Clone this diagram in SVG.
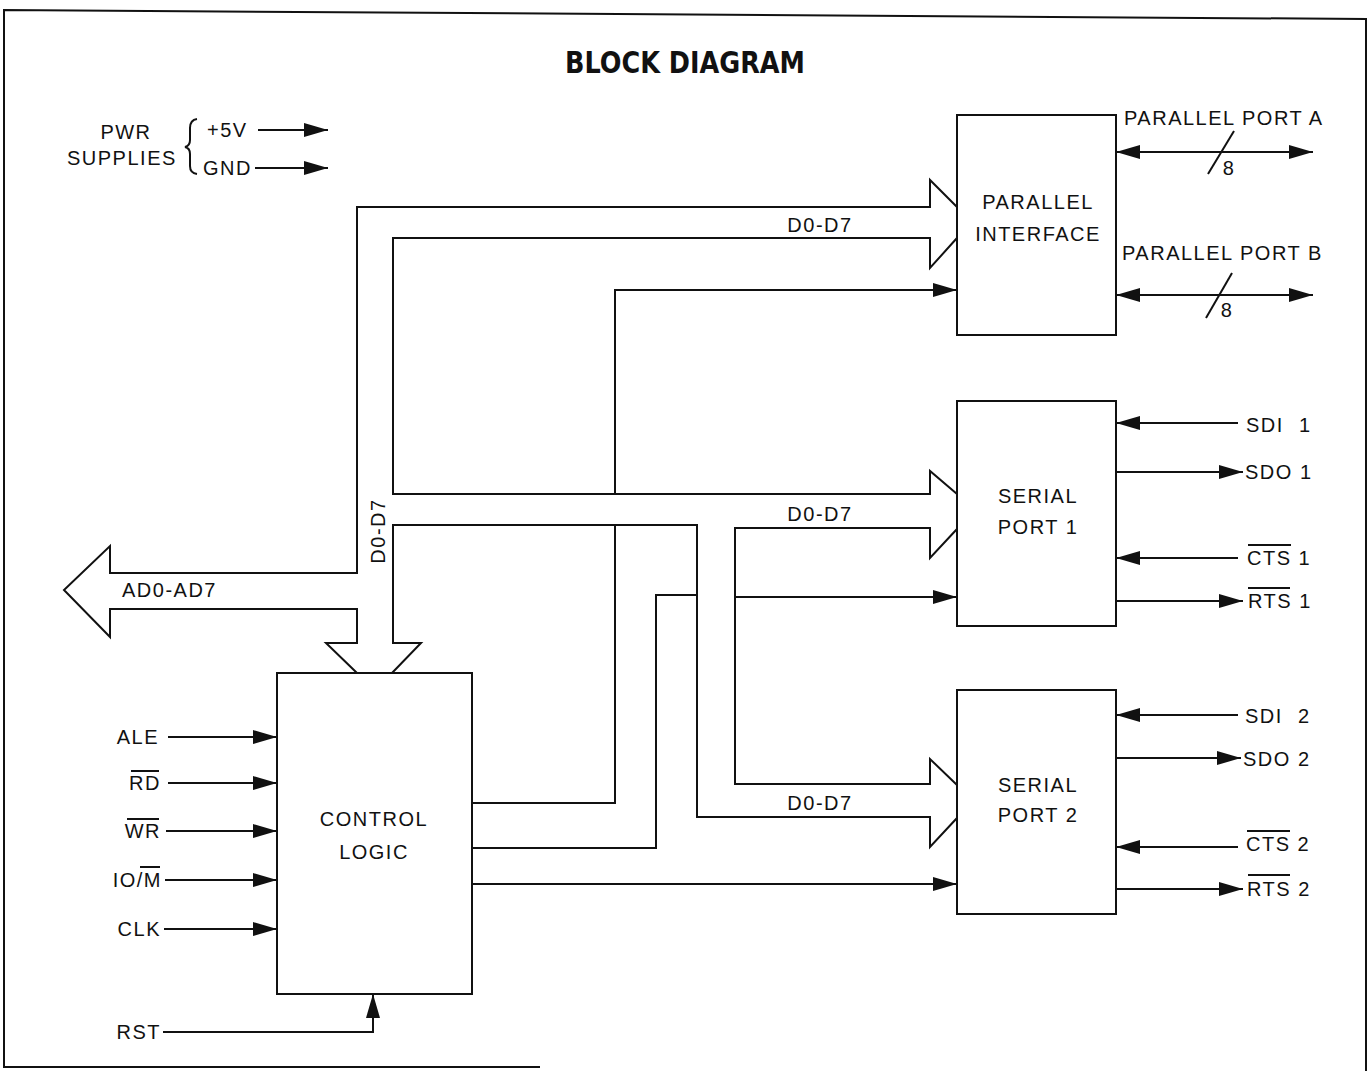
<svg xmlns="http://www.w3.org/2000/svg" width="1369" height="1071" viewBox="0 0 1369 1071">
<style>
text{font-family:"Liberation Sans",Arial,sans-serif;font-size:20px;letter-spacing:1.5px;fill:#111}
.ln{fill:none;stroke:#111;stroke-width:2}
.arr{fill:none;stroke:#111;stroke-width:2;marker-end:url(#ah)}
.box{fill:#fff;stroke:#111;stroke-width:2}
.mid{text-anchor:middle}
.end{text-anchor:end}
.title{font-family:"DejaVu Sans Condensed","DejaVu Sans",sans-serif;font-weight:bold;font-size:31px;letter-spacing:0}
</style>
<defs>
<marker id="ah" markerUnits="userSpaceOnUse" markerWidth="24" markerHeight="14" refX="24" refY="7" orient="auto">
<path d="M0,0 L24,7 L0,14 z" fill="#111"/>
</marker>
<marker id="as" markerUnits="userSpaceOnUse" markerWidth="24" markerHeight="14" refX="0" refY="7" orient="auto">
<path d="M24,0 L0,7 L24,14 z" fill="#111"/>
</marker>
</defs>
<rect width="1369" height="1071" fill="#fff"/>
<path class="ln" d="M540 1067 L4 1067 L4 10 L1366 19 L1366 1071"/>
<text class="title" x="565" y="73" textLength="240" lengthAdjust="spacingAndGlyphs">BLOCK DIAGRAM</text>

<g id="pwr">
<text class="mid" x="126" y="139">PWR</text>
<text x="67" y="165">SUPPLIES</text>
<path class="ln" stroke-width="1.5" d="M197 119 Q190 120 190 128 L190 140 Q190 146 185 147 Q190 148 190 154 L190 166 Q190 173 197 174"/>
<text x="207" y="137">+5V</text>
<text x="203" y="175">GND</text>
</g>

<g id="connectors">
<path class="arr" d="M258 130 L328 130"/>
<path class="arr" d="M255 168 L328 168"/>
<!-- buses -->
<path class="ln" d="M957 207 L930 180 L930 207 L357 207 L357 573 L110 573 L110 546 L64 590 L110 637 L110 609 L357 609 L357 643 L326 643 L357 673"/>
<path class="ln" d="M392 673 L421 643 L393 643 L393 525 L697 525 L697 817 L930 817 L930 847 L957 818"/>
<path class="ln" d="M957 238 L930 268 L930 238 L393 238 L393 494 L930 494 L930 471 L957 494"/>
<path class="ln" d="M957 529 L930 558 L930 528 L735 528 L735 784 L930 784 L930 759 L957 785"/>
<!-- control signals -->
<path class="ln" d="M472 803 L615 803 L615 526"/>
<path class="arr" d="M615 494 L615 290 L957 290"/>
<path class="ln" d="M472 848 L656 848 L656 595 L697 595"/>
<path class="arr" d="M735 597 L957 597"/>
<path class="arr" d="M472 884 L957 884"/>
<!-- control logic inputs -->
<path class="arr" d="M168 737 L277 737"/>
<path class="arr" d="M168 783 L277 783"/>
<path class="arr" d="M166 831 L277 831"/>
<path class="arr" d="M165 880 L277 880"/>
<path class="arr" d="M164 929 L277 929"/>
<path class="arr" d="M163 1032 L373 1032 L373 994"/>
<!-- parallel ports -->
<path class="ln" d="M1116 152 L1313 152" marker-start="url(#as)" marker-end="url(#ah)"/>
<path class="ln" d="M1208 174 L1234 131"/>
<path class="ln" d="M1116 295 L1313 295" marker-start="url(#as)" marker-end="url(#ah)"/>
<path class="ln" d="M1206 318 L1232 273"/>
<!-- serial 1 -->
<path class="arr" d="M1238 423 L1116 423"/>
<path class="arr" d="M1116 472 L1243 472"/>
<path class="arr" d="M1238 558 L1116 558"/>
<path class="arr" d="M1116 601 L1243 601"/>
<!-- serial 2 -->
<path class="arr" d="M1238 715 L1116 715"/>
<path class="arr" d="M1116 758 L1241 758"/>
<path class="arr" d="M1238 847 L1116 847"/>
<path class="arr" d="M1116 889 L1243 889"/>
</g>

<g id="parallel-interface">
<rect class="box" x="957" y="115" width="159" height="220"/>
<text class="mid" x="1038" y="209">PARALLEL</text>
<text class="mid" x="1038" y="241">INTERFACE</text>
</g>
<g id="serial-port-1">
<rect class="box" x="957" y="401" width="159" height="225"/>
<text class="mid" x="1038" y="503">SERIAL</text>
<text class="mid" x="1038" y="534">PORT 1</text>
</g>
<g id="serial-port-2">
<rect class="box" x="957" y="690" width="159" height="224"/>
<text class="mid" x="1038" y="792">SERIAL</text>
<text class="mid" x="1038" y="822">PORT 2</text>
</g>
<g id="control-logic">
<rect class="box" x="277" y="673" width="195" height="321"/>
<text class="mid" x="374" y="826">CONTROL</text>
<text class="mid" x="374" y="859">LOGIC</text>
</g>

<g id="labels">
<text x="820" y="232" class="mid">D0-D7</text>
<text x="820" y="521" class="mid">D0-D7</text>
<text x="820" y="810" class="mid">D0-D7</text>
<text class="mid" transform="translate(385,531) rotate(-90)">D0-D7</text>
<text x="122" y="597">AD0-AD7</text>
<text class="end" x="159" y="744">ALE</text>
<text class="end" x="161" y="790">RD</text>
<path class="ln" stroke-width="1.5" d="M131 771 L159 771"/>
<text class="end" x="161" y="838">WR</text>
<path class="ln" stroke-width="1.5" d="M127 819 L159 819"/>
<text class="end" x="162" y="887">IO/M</text>
<path class="ln" stroke-width="1.5" d="M140 867 L160 867"/>
<text class="end" x="161" y="936">CLK</text>
<text class="end" x="161" y="1039">RST</text>
<text x="1124" y="125">PARALLEL PORT A</text>
<text x="1229" y="175" class="mid">8</text>
<text x="1122" y="260">PARALLEL PORT B</text>
<text x="1227" y="317" class="mid">8</text>
<text x="1246" y="432" word-spacing="8">SDI 1</text>
<text x="1245" y="479">SDO 1</text>
<text x="1247" y="565">CTS 1</text>
<path class="ln" stroke-width="1.5" d="M1248 545 L1291 545"/>
<text x="1248" y="608">RTS 1</text>
<path class="ln" stroke-width="1.5" d="M1248 588 L1290 588"/>
<text x="1245" y="723" word-spacing="8">SDI 2</text>
<text x="1243" y="766">SDO 2</text>
<text x="1246" y="851">CTS 2</text>
<path class="ln" stroke-width="1.5" d="M1247 831 L1290 831"/>
<text x="1247" y="896">RTS 2</text>
<path class="ln" stroke-width="1.5" d="M1248 875 L1290 875"/>
</g>
</svg>
